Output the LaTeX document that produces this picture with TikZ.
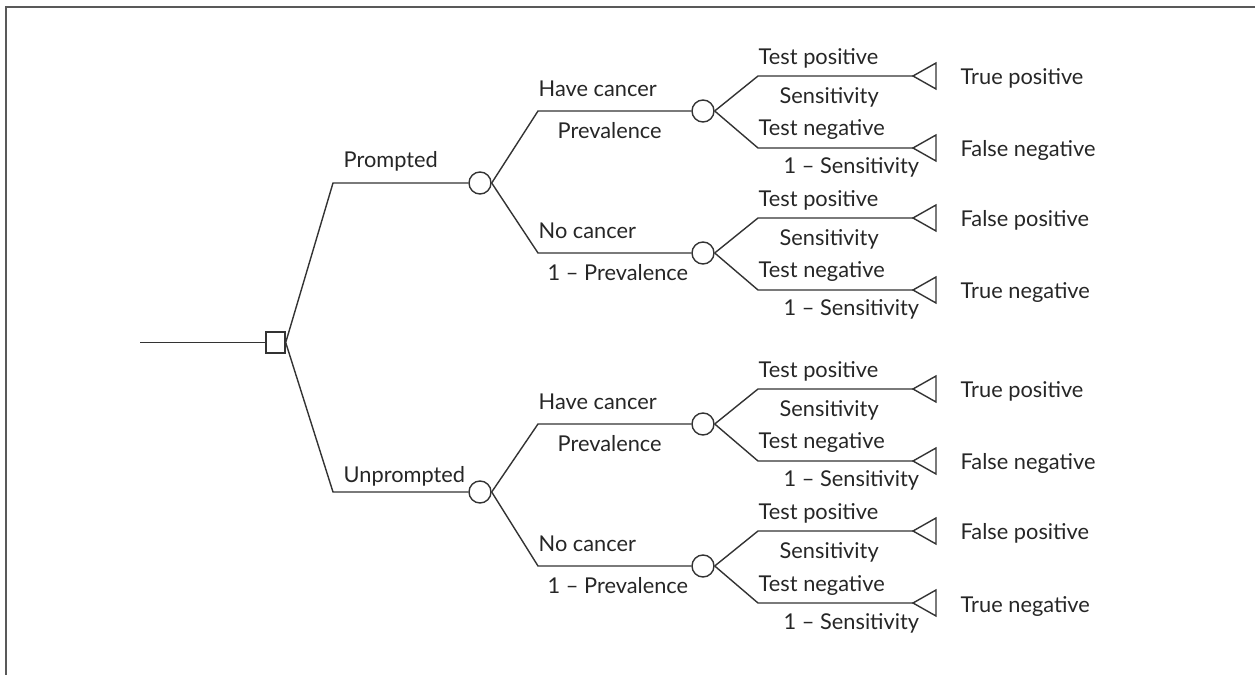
\documentclass[tikz,border=0pt]{standalone}
\usepackage{fontspec}
\setmainfont{Lato}
\usetikzlibrary{positioning}

\tikzset{
    leaf/.pic={\draw (0,0) -- (23,-13) -- (23,13) -- cycle;}
}

\begin{document}
\begin{tikzpicture}[x=0.02cm, y=-0.02cm, line width=0.8pt, color=black!80,
    every node/.style={text=black!85, font=\fontsize{12.4}{14}\selectfont},
    lab/.style={anchor=base west, inner sep=0pt},
    decision/.style={draw, rectangle, minimum width=0.38cm, minimum height=0.42cm, inner sep=0pt},
    chance/.style={draw, circle, minimum size=0.44cm, inner sep=0pt}]

    % khung va vung ve
    \useasboundingbox (0,0) rectangle (1255,675);
    \draw[black!65, line width=1.2pt] (6,675) -- (6,7) -- (1255,7);

    % nut quyet dinh
    \coordinate (start) at (140,342.5);
    \node[decision] (dec) at (275.5,342.5) {};
    \draw (start) -- (dec);

    % hai nhanh: Prompted / Unprompted
    \foreach \dy/\dz/\arm/\armlab/\laby in {0/0/p/Prompted/168, 309/313/u/Unprompted/483} {
        \coordinate (\arm k) at (333,183+\dy);
        \node[chance] (\arm) at (480,183+\dy) {};
        \draw (dec.east) -- (\arm k) -- (\arm);
        \node[lab] at (343,\laby) {\armlab};

        % Have cancer / No cancer
        \foreach \br/\sy/\upl/\lowl/\lowx/\outA/\outB in
            {c/111/Have cancer/Prevalence/557/True positive/False negative,
             n/253/No cancer/1 -- Prevalence/547/False positive/True negative} {
            \coordinate (\arm\br k) at (538,\sy+\dz);
            \node[chance] (\arm\br) at (703,\sy+\dz) {};
            \draw (\arm.east) -- (\arm\br k) -- (\arm\br);
            \node[lab] at (538,\sy+\dz-14) {\upl};
            \node[lab] at (\lowx,\sy+\dz+28) {\lowl};

            % Test positive / Test negative
            \coordinate (\arm\br a) at (758,\sy+\dz-35);
            \coordinate (\arm\br b) at (758,\sy+\dz+37);
            \coordinate (\arm\br A) at (913,\sy+\dz-35);
            \coordinate (\arm\br B) at (913,\sy+\dz+37);
            \draw (\arm\br.east) -- (\arm\br a) -- (\arm\br A);
            \draw (\arm\br.east) -- (\arm\br b) -- (\arm\br B);
            \pic at (\arm\br A) {leaf};
            \pic at (\arm\br B) {leaf};

            \node[lab] at (758,\sy+\dz-46) {Test positive};
            \node[lab] at (779,\sy+\dz-7) {Sensitivity};
            \node[lab] at (758,\sy+\dz+25) {Test negative};
            \node[lab] at (783,\sy+\dz+63) {1 -- Sensitivity};
            \node[lab] at (960,\sy+\dz-26) {\outA};
            \node[lab] at (960,\sy+\dz+46) {\outB};
        }
    }

\end{tikzpicture}
\end{document}
